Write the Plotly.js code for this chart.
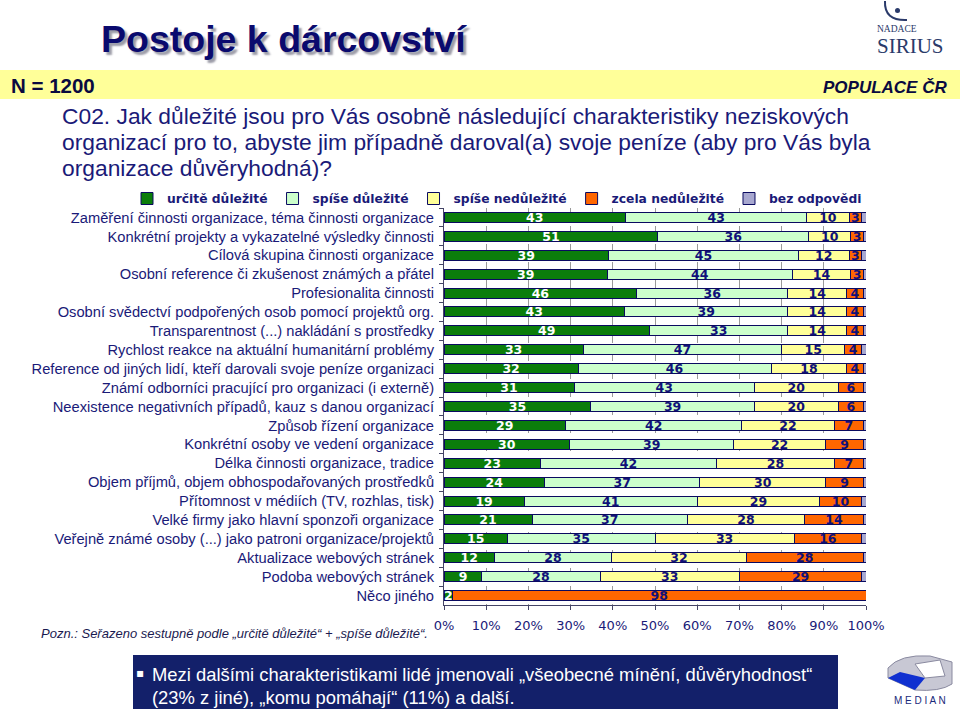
<!DOCTYPE html>
<html>
<head>
<meta charset="utf-8">
<script src="https://cdn.plot.ly/plotly-3.0.1.min.js"></script>
<style>
html,body{margin:0;padding:0;background:#fff;}
#chart{width:960px;height:709px;}
</style>
</head>
<body>
<div id="chart"></div>
<script>
const categories = [
  "Zaměření činnosti organizace, téma činnosti organizace",
  "Konkrétní projekty a vykazatelné výsledky činnosti",
  "Cílová skupina činnosti organizace",
  "Osobní reference či zkušenost známých a přátel",
  "Profesionalita činnosti",
  "Osobní svědectví podpořených osob pomocí projektů org.",
  "Transparentnost (...) nakládání s prostředky",
  "Rychlost reakce na aktuální humanitární problémy",
  "Reference od jiných lidí, kteří darovali svoje peníze organizaci",
  "Známí odborníci pracující pro organizaci (i externě)",
  "Neexistence negativních případů, kauz s danou organizací",
  "Způsob řízení organizace",
  "Konkrétní osoby ve vedení organizace",
  "Délka činnosti organizace, tradice",
  "Objem příjmů, objem obhospodařovaných prostředků",
  "Přítomnost v médiích (TV, rozhlas, tisk)",
  "Velké firmy jako hlavní sponzoři organizace",
  "Veřejně známé osoby (...) jako patroni organizace/projektů",
  "Aktualizace webových stránek",
  "Podoba webových stránek",
  "Něco jiného"
];
const seriesNames = ["určitě důležité","spíše důležité","spíše nedůležité","zcela nedůležité","bez odpovědi"];
const urciteDulezite   = [43,51,39,39,46,43,49,33,32,31,35,29,30,23,24,19,21,15,12,9,2];
const spiseDulezite    = [43,36,45,44,36,39,33,47,46,43,39,42,39,42,37,41,37,35,28,28,0];
const spiseNedulezite  = [10,10,12,14,14,14,14,15,18,20,20,22,22,28,30,29,28,33,32,33,0];
const zcelaNedulezite  = [3,3,3,3,4,4,4,4,4,6,6,7,9,7,9,10,14,16,28,29,98];
const bezOdpovedi      = [1,0.6,1,0.6,0.6,0.6,0.6,1,0.6,0.6,0.6,0.6,0.6,0.6,0.6,1,0.6,1,0.6,1,0];
const xTickVals = [0,10,20,30,40,50,60,70,80,90,100];
const xTickText = ["0%","10%","20%","30%","40%","50%","60%","70%","80%","90%","100%"];

const colors = ["#0B7D0B","#CCFFCC","#FFFF99","#FF6600","#A8A8D0"];
const textColors = ["#FFFFFF","#10107A","#10107A","#10107A","#10107A"];
const allValues = [urciteDulezite, spiseDulezite, spiseNedulezite, zcelaNedulezite, bezOdpovedi];

const traces = allValues.map((vals, i) => ({
  type: "bar",
  orientation: "h",
  name: seriesNames[i],
  y: categories,
  x: vals,
  text: i < 4 ? vals.map(v => v > 0 ? String(v) : "") : vals.map(() => ""),
  textposition: i < 4 ? "inside" : "none",
  insidetextanchor: "middle",
  textangle: 0,
  constraintext: "none",
  insidetextfont: {family: "DejaVu Sans, Verdana, sans-serif", size: 12.5, color: textColors[i], weight: "bold"},
  marker: {color: colors[i], line: {color: "#0A0A60", width: 1}},
  hoverinfo: "name+x"
}));

const L = 444, R = 866, T = 208, B = 605;
const px = x => (x - L) / (R - L);
const py = y => (B - y) / (B - T);
const navy = "#1A1A78";
const qFont = {family: "Liberation Sans, Arial, sans-serif", size: 22.8, color: navy};

const annotations = [
  {text: "<b>Postoje k dárcovství</b>", x: px(99), y: py(39), xanchor: "left", yanchor: "middle",
   font: {family: "Liberation Sans, Arial, sans-serif", size: 37.5, color: "#0A0A6E"}, showarrow: false},
  {text: "<b>N = 1200</b>", x: px(9), y: py(85), xanchor: "left", yanchor: "middle",
   font: {family: "Liberation Sans, Arial, sans-serif", size: 20.5, color: "#0A0A40"}, showarrow: false},
  {text: "<b><i>POPULACE ČR</i></b>", x: px(949), y: py(87), xanchor: "right", yanchor: "middle",
   font: {family: "Liberation Sans, Arial, sans-serif", size: 17, color: "#0A0A40"}, showarrow: false},
  {text: "C02. Jak důležité jsou pro Vás osobně následující charakteristiky neziskových",
   x: px(60), y: py(116), xanchor: "left", yanchor: "middle", font: qFont, showarrow: false},
  {text: "organizací pro to, abyste jim případně daroval(a) svoje peníze (aby pro Vás byla",
   x: px(60), y: py(142), xanchor: "left", yanchor: "middle", font: qFont, showarrow: false},
  {text: "organizace důvěryhodná)?",
   x: px(60), y: py(168), xanchor: "left", yanchor: "middle", font: qFont, showarrow: false},
  {text: "<i>Pozn.: Seřazeno sestupně podle „určitě důležité“ + „spíše důležité“.</i>", x: px(39), y: py(633), xanchor: "left", yanchor: "middle",
   font: {family: "Liberation Sans, Arial, sans-serif", size: 13, color: "#1A1A50"}, showarrow: false},
  {text: "▪", x: px(134), y: py(673), xanchor: "left", yanchor: "middle",
   font: {family: "DejaVu Sans, sans-serif", size: 12, color: "#FFFFFF"}, showarrow: false},
  {text: "Mezi dalšími charakteristikami lidé jmenovali „všeobecné mínění, důvěryhodnost“", x: px(150), y: py(674), xanchor: "left", yanchor: "middle",
   font: {family: "Liberation Sans, Arial, sans-serif", size: 18.4, color: "#FFFFFF"}, showarrow: false},
  {text: "(23% z jiné), „komu pomáhají“ (11%) a další.", x: px(150), y: py(697), xanchor: "left", yanchor: "middle",
   font: {family: "Liberation Sans, Arial, sans-serif", size: 18.4, color: "#FFFFFF"}, showarrow: false},
  {text: "NADACE", x: px(875), y: py(29), xanchor: "left", yanchor: "middle",
   font: {family: "Liberation Serif, serif", size: 9.5, color: "#2A3A6A"}, showarrow: false},
  {text: "SIRIUS", x: px(875), y: py(46), xanchor: "left", yanchor: "middle",
   font: {family: "Liberation Serif, serif", size: 21, color: "#2A3A6A"}, showarrow: false},
  {text: "M E D I A N", x: px(920), y: py(700), xanchor: "center", yanchor: "middle",
   font: {family: "Liberation Sans, Arial, sans-serif", size: 10, color: "#1A2A7A"}, showarrow: false}
];
annotations.forEach(a => { a.xref = "paper"; a.yref = "paper"; });

const shapes = [
  {type: "rect", xref: "paper", yref: "paper", x0: px(0), x1: px(960), y0: py(99), y1: py(70),
   fillcolor: "#FFFF99", line: {width: 0}, layer: "below"},
  {type: "rect", xref: "paper", yref: "paper", x0: px(133), x1: px(838), y0: py(709), y1: py(655),
   fillcolor: "#13206A", line: {width: 0}, layer: "below"},
  {type: "path", xref: "paper", yref: "paper",
   path: `M ${px(885)},${py(1)} Q ${px(884)},${py(21)} ${px(907)},${py(20)}`,
   line: {color: "#2A3A6A", width: 2}},
  {type: "circle", xref: "paper", yref: "paper", x0: px(895), x1: px(900), y0: py(13), y1: py(8),
   fillcolor: "#2A3A6A", line: {width: 0}},
  {type: "path", xref: "paper", yref: "paper",
   path: `M ${px(888)},${py(668)} Q ${px(900)},${py(654)} ${px(930)},${py(656)} L ${px(952)},${py(662)} L ${px(952)},${py(684)} Q ${px(940)},${py(692)} ${px(915)},${py(690)} L ${px(888)},${py(678)} Z`,
   fillcolor: "#C8C8D4", line: {color: "#8A8AA0", width: 1}},
  {type: "path", xref: "paper", yref: "paper",
   path: `M ${px(888)},${py(678)} L ${px(900)},${py(672)} L ${px(925)},${py(678)} L ${px(915)},${py(690)} Z`,
   fillcolor: "#1030D0", line: {width: 0}},
  {type: "path", xref: "paper", yref: "paper",
   path: `M ${px(915)},${py(664)} L ${px(940)},${py(660)} L ${px(945)},${py(676)} L ${px(925)},${py(678)} Z`,
   fillcolor: "#FFFFFF", line: {color: "#8A8AA0", width: 1}}
];

const layout = {
  width: 960, height: 709,
  margin: {l: L, r: 960 - R, t: T, b: 709 - B, pad: 0},
  paper_bgcolor: "#FFFFFF", plot_bgcolor: "#FFFFFF",
  barmode: "stack", barnorm: "percent", bargap: 0.47,
  showlegend: true,
  legend: {orientation: "h", x: px(127), y: py(184), xanchor: "left", yanchor: "top",
           font: {family: "DejaVu Sans, Verdana, sans-serif", size: 12.3, color: navy, weight: "bold"},
           traceorder: "normal", bgcolor: "rgba(0,0,0,0)", itemclick: false},
  xaxis: {range: [0, 100], tickvals: xTickVals, ticktext: xTickText, showgrid: true,
          gridcolor: "#9A9A9A", griddash: "dash", gridwidth: 1, zeroline: false,
          showline: true, linecolor: "#444466", linewidth: 1, ticks: "outside", ticklen: 4, tickcolor: "#444466",
          ticklabelstandoff: 4,
          tickfont: {family: "DejaVu Sans, Verdana, sans-serif", size: 13, color: navy}, fixedrange: true},
  yaxis: {type: "category", autorange: "reversed", showline: true, linecolor: "#444466", linewidth: 1,
          ticks: "outside", tickson: "boundaries", ticklen: 4, tickcolor: "#444466", showgrid: false,
          ticklabelstandoff: 6,
          tickfont: {family: "Liberation Sans, Arial, sans-serif", size: 14.7, color: navy}, automargin: false, fixedrange: true},
  annotations: annotations,
  shapes: shapes,
  font: {family: "Liberation Sans, Arial, sans-serif"}
};

Plotly.newPlot("chart", traces, layout, {displayModeBar: false, staticPlot: true}).then(gd => {
  const ann = gd.querySelectorAll(".annotation-text");
  if (ann.length) ann[0].style.textShadow = "3px 3px 2px #9C9CA8";
});
</script>
</body>
</html>
